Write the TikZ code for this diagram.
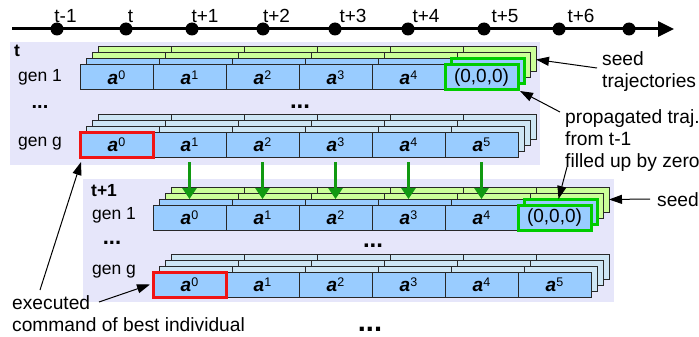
\documentclass[tikz,border=0pt]{standalone}
\usepackage{fontspec}
\setmainfont{Liberation Sans}
\usetikzlibrary{arrows.meta}
\definecolor{lav}{RGB}{230,230,250}
\definecolor{cblue}{RGB}{153,204,255}
\definecolor{clblue}{RGB}{206,230,244}
\definecolor{cgreen}{RGB}{204,255,153}
\definecolor{gline}{RGB}{0,204,0}
\definecolor{garr}{RGB}{17,153,17}
\definecolor{bline}{RGB}{40,40,40}
\definecolor{rline}{RGB}{240,20,20}
\newcommand\acell[1]{{\bfseries\itshape a}\raisebox{0.5ex}{\fontsize{12.5}{12.5}\selectfont #1}}
\tikzset{
  cell/.style={draw=bline, line width=1pt, minimum width=73pt, minimum height=25pt,
    inner sep=0pt, outer sep=0pt, anchor=north west, font=\fontsize{19}{22}\selectfont},
  panel/.style={fill=lav, draw=none, inner sep=0pt, outer sep=0pt, anchor=north west},
  genlbl/.style={anchor=west, inner sep=0pt, font=\fontsize{17.5}{20}\selectfont},
  plbl/.style={anchor=base west, inner sep=0pt, font=\fontsize{17.5}{20}\selectfont\bfseries},
  ann/.style={anchor=north west, inner sep=0pt, align=left, font=\fontsize{19.2}{22}\selectfont},
  tlbl/.style={anchor=base, inner sep=0pt, font=\fontsize{19}{22}\selectfont},
  dots/.style={inner sep=0pt, font=\bfseries},
  tdot/.style={circle, fill=black, minimum size=13pt, inner sep=0pt},
  garrow/.style={draw=garr, line width=3pt, -{Triangle[length=11pt,width=14pt]}},
  barrow/.style={draw=black, line width=1pt, -{Triangle[length=13pt,width=9pt]}},
  gbox/.style={draw=gline, line width=3pt},
  rbox/.style={draw=rline, line width=3pt}
}
% gen-1 style stack: #1 name, #2 x, #3 y
\newcommand\genone[3]{%
  \foreach \L/\col in {3/cgreen,2/cgreen,1/cblue}{
    \foreach \c in {0,...,5}{
      \node[cell, fill=\col] (#1L\L-\c) at ({#2+6*\L+73*\c},{#3-6*\L}) {};
    }
  }
  \draw[gbox] (#1L1-5.north west) rectangle (#1L1-5.south east);
  \foreach \c in {0,...,4}{
    \node[cell, fill=cblue] (#1-\c) at ({#2+73*\c},#3) {\acell{\c}};
  }
  \node[cell, fill=cblue, gbox] (#1-5) at ({#2+365},#3) {(0,0,0)};
}
\newcommand\geng[3]{%
  \foreach \L in {3,2,1}{
    \foreach \c in {0,...,5}{
      \node[cell, fill=clblue] (#1L\L-\c) at ({#2+6*\L+73*\c},{#3-6*\L}) {};
    }
  }
  \foreach \c in {0,...,5}{
    \node[cell, fill=cblue] (#1-\c) at ({#2+73*\c},#3) {\acell{\c}};
  }
  \draw[rbox] (#1-0.north west) rectangle (#1-0.south east);
}
\begin{document}
\begin{tikzpicture}[x=1pt,y=-1pt]
\useasboundingbox (0,0) rectangle (699,337);
% timeline
\coordinate (tstart) at (12,29);
\coordinate (tend) at (674,29);
\draw[line width=3pt, -{Triangle[length=16pt,width=15pt]}] (tstart) -- (tend);
\foreach \x [count=\i] in {57,126,192,263,335,408,484,559,629}{
  \node[tdot] (d\i) at (\x,29) {};
}
\foreach \x/\t [count=\i] in {65.5/t-1,130.5/t,205/t+1,276.5/t+2,353/t+3,426/t+4,505/t+5,581/t+6}{
  \node[tlbl] (tl\i) at (\x,23) {\t};
}
% panels
\node[panel, minimum width=530pt, minimum height=123pt] (P1) at (10,42) {};
\node[panel, minimum width=531pt, minimum height=123pt] (P2) at (83,179) {};
% panel 1
\node[plbl] (P1t) at (14,57) {t};
\node[genlbl] (P1g1) at (18,77) {gen 1};
\node[genlbl] (P1gg) at (18,144) {gen g};
\node[dots, font=\fontsize{20}{20}\selectfont\bfseries] (P1d1) at (40,107) {...};
\node[dots, font=\fontsize{24}{24}\selectfont\bfseries] (P1d2) at (300,107) {...};
\genone{aa}{80}{65}
\geng{ab}{80}{132}
% panel 2
\node[plbl] (P2t) at (91,196) {t+1};
\node[genlbl] (P2g1) at (92,215) {gen 1};
\node[genlbl] (P2gg) at (92,272) {gen g};
\node[dots, font=\fontsize{22}{22}\selectfont\bfseries] (P2d1) at (112,243) {...};
\node[dots, font=\fontsize{24}{24}\selectfont\bfseries] (P2d2) at (373,246) {...};
\genone{ba}{153}{205}
\geng{bb}{153}{272}
\node[dots, font=\fontsize{29}{29}\selectfont\bfseries] (P3d) at (370,329) {...};
% green propagation arrows
\foreach \c in {1,...,5}{
  \draw[garrow] ([yshift=-5pt]ab-\c.south) -- (ab-\c.south |- baL1-0.north);
}
% annotations
\node[ann] (seedtr) at (602,51) {seed\\trajectories};
\node[ann] (prop) at (565,109) {propagated traj.\\from t-1\\filled up by zero};
\node[ann] (seed) at (657,192) {seed};
\node[ann] (exec) at (12,295) {executed\\command of best individual};
\coordinate (s1) at (597,68);
\coordinate (p1) at (560,112);
\coordinate (p2) at (567,167);
\coordinate (s2) at (650,199);
\coordinate (e1) at (40,290);
\coordinate (e2) at (99,302);
\draw[barrow] (s1) -- (aaL3-5.east);
\draw[barrow] (p1) -- ([xshift=2pt,yshift=-1pt]aa-5.south east);
\draw[barrow] (p2) -- ([xshift=-2pt]baL1-5.north);
\draw[barrow] (s2) -- (baL3-5.east);
\draw[barrow] (e1) -- ([xshift=1pt,yshift=-5pt]ab-0.south west);
\draw[barrow] (e2) -- ([xshift=-3pt]bb-0.west);
\end{tikzpicture}
\end{document}
